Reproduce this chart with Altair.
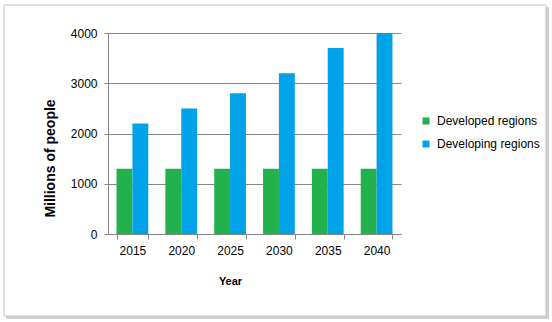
import altair as alt
import pandas as pd

years = ["2015", "2020", "2025", "2030", "2035", "2040"]
developed = [1300, 1300, 1300, 1300, 1300, 1300]
developing = [2200, 2500, 2800, 3200, 3700, 4000]
series_names = ["Developed regions", "Developing regions"]
series_colors = ["#22B14C", "#00A2E8"]
y_ticks = [0, 1000, 2000, 3000, 4000]

rows = []
for i, y in enumerate(years):
    rows.append({"year": y, "series": series_names[0], "value": developed[i]})
    rows.append({"year": y, "series": series_names[1], "value": developing[i]})
df = pd.DataFrame(rows)

FONT = "Liberation Sans"
W, H = 293, 201

frame_data = pd.DataFrame({"k": [0]})
shadow_right = alt.Chart(frame_data).mark_rect(fill="#d0d0d0").encode(
    x=alt.value(438), x2=alt.value(441), y=alt.value(-26), y2=alt.value(286)
)
shadow_bottom = alt.Chart(frame_data).mark_rect(fill="#d0d0d0").encode(
    x=alt.value(-102), x2=alt.value(441), y=alt.value(283), y2=alt.value(286)
)
frame = alt.Chart(frame_data).mark_rect(fill="transparent", stroke="#c4c4c4", strokeWidth=1).encode(
    x=alt.value(-104), x2=alt.value(438), y=alt.value(-28), y2=alt.value(283)
)

bars = alt.Chart(df).mark_bar().encode(
    x=alt.X(
        "year:N",
        sort=years,
        scale=alt.Scale(paddingInner=0.35, paddingOuter=0.175),
        axis=alt.Axis(
            title="Year",
            titleFont=FONT,
            titleFontSize=11,
            titleFontWeight="bold",
            titleColor="#000000",
            titleX=122,
            titleY=47,
            titleBaseline="middle",
            titleAlign="center",
            labelFont=FONT,
            labelFontSize=12,
            labelColor="#000000",
            labelAngle=0,
            labelPadding=6,
            tickBand="extent",
            tickSize=5,
            tickColor="#868686",
            domainColor="#868686",
            grid=False,
        ),
    ),
    xOffset=alt.XOffset("series:N", sort=series_names, scale=alt.Scale(paddingInner=0, paddingOuter=0)),
    y=alt.Y(
        "value:Q",
        scale=alt.Scale(domain=[0, 4000], nice=False),
        axis=alt.Axis(
            title="Millions of people",
            titleFont=FONT,
            titleFontSize=14,
            titleFontWeight="bold",
            titleColor="#000000",
            titleAngle=270,
            titleX=-58,
            titleY=125,
            titleAlign="center",
            titleBaseline="middle",
            values=y_ticks,
            format="d",
            labelFont=FONT,
            labelFontSize=12,
            labelColor="#000000",
            labelPadding=7,
            tickSize=4,
            tickColor="#868686",
            domainColor="#868686",
            gridColor="#868686",
            gridWidth=1,
        ),
    ),
    color=alt.Color(
        "series:N",
        sort=series_names,
        scale=alt.Scale(domain=series_names, range=series_colors),
        legend=alt.Legend(
            title=None,
            orient="none",
            legendX=312,
            legendY=82,
            symbolType="square",
            symbolSize=49,
            symbolStrokeWidth=0,
            labelFont=FONT,
            labelFontSize=12,
            labelColor="#000000",
            labelOffset=5,
            rowPadding=11,
            padding=0,
        ),
    ),
)

chart = alt.layer(shadow_right, shadow_bottom, frame, bars).properties(
    width=W,
    height=H,
    autosize=alt.AutoSizeParams(type="none"),
    padding={"left": 108, "top": 33, "right": 552 - 108 - W, "bottom": 322 - 33 - H},
    background="white",
).configure_view(stroke=None)

chart.save("out.html", embed_options={"renderer": "svg", "actions": False})
